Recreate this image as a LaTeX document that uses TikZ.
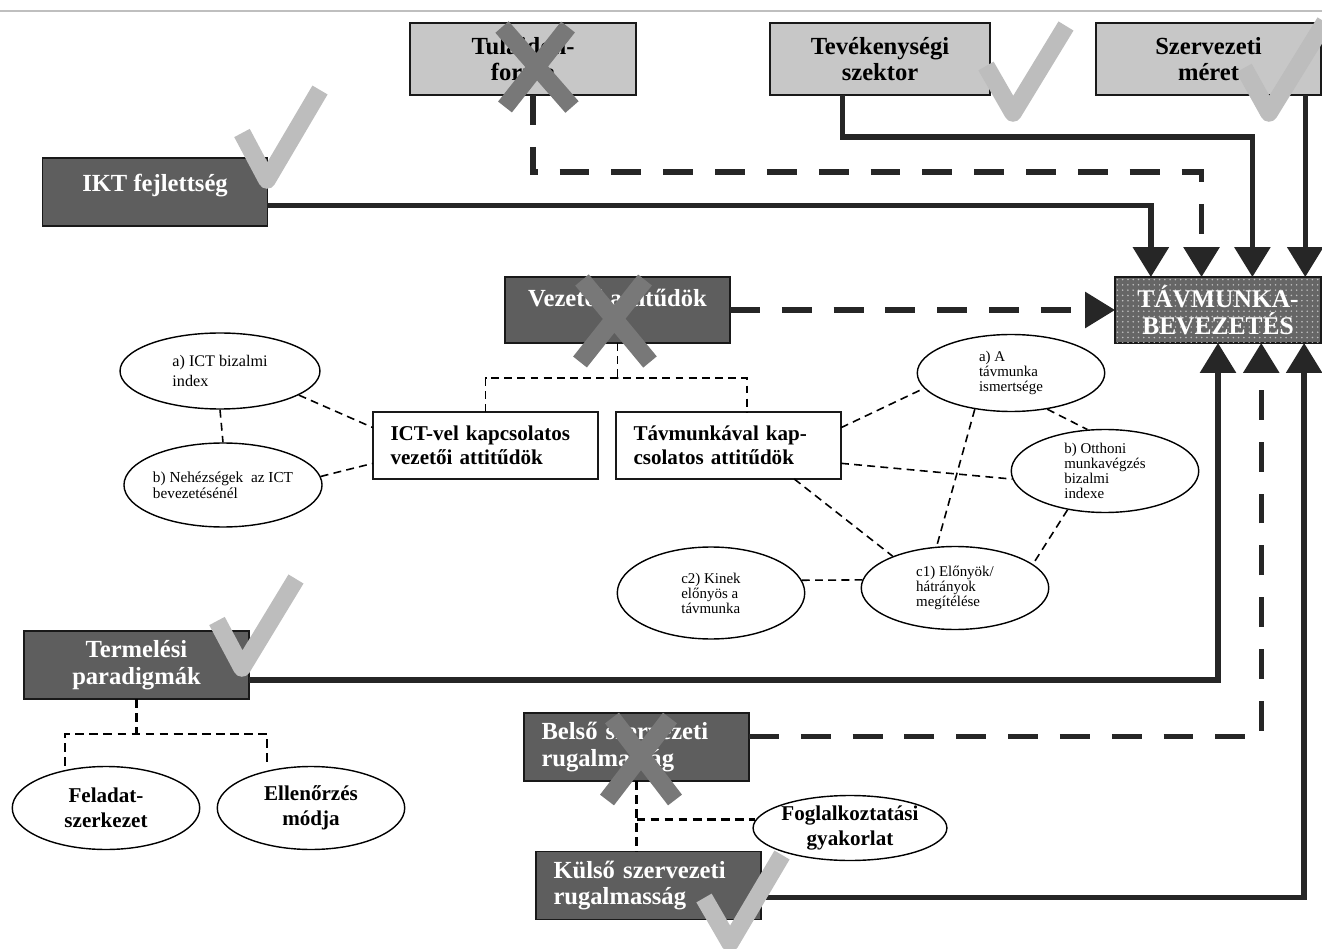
\documentclass[tikz,border=0pt]{standalone}
\usepackage{fontspec}
\setmainfont{Liberation Serif}
\usetikzlibrary{arrows.meta,shapes.geometric,calc,patterns}

\begin{document}
\begin{tikzpicture}
[x=0.02cm, y=-0.02cm, >={Triangle[width=20pt,length=17pt]},
box/.style = 
{draw=black!90, line width=0.9pt, shape=rectangle, minimum width=4.5cm, minimum height=1.36cm, inner sep=0pt, outer sep=0pt},
lightbox/.style = {box, fill=black!22, align=center, font=\bfseries\fontsize{14}{15}\selectfont},
darkbox/.style = {box, fill=black!63, text=white, align=center, font=\bfseries\fontsize{14}{15}\selectfont},
leftbox/.style = {align=left, text width=3.8cm},
whitebox/.style = {box, fill=white, leftbox, minimum height=1.34cm, font=\bfseries\fontsize{12}{14}\selectfont},
tavbox/.style = {box, fill=black!60, postaction={pattern=dots, pattern color=black!25}, text=white, align=center, minimum width=4.12cm, minimum height=1.32cm, font=\bfseries\fontsize{14.5}{15.5}\selectfont},
oval/.style = {draw, line width=0.8pt, shape=ellipse, inner sep=0pt, minimum width=3.75cm, minimum height=1.66cm, align=left, font=\fontsize{8.5}{8.5}\selectfont},
boval/.style = {oval, align=center, font=\bfseries\fontsize{12}{14}\selectfont},
bigline/.style = {draw=black!85, line width=3pt},
bigdash/.style = {bigline, dash pattern=on 17pt off 12.5pt},
link/.style = {draw=black, line width=0.9pt, dash pattern=on 4.5pt off 3pt},
tree/.style = {link, line width=1pt},
tree2/.style = {link, line width=1.6pt, dash pattern=on 5pt off 3pt},
tick/.style = {draw=black!26, line width=10pt, line join=round},
cross/.style = {draw=black!53, line width=10pt}]

\useasboundingbox (0,0) rectangle (1322,949);
\draw[black!25, line width=1.2pt] (0,11) -- (1322,11);

\node[lightbox, minimum width=4.52cm, minimum height=1.44cm] (tul) at (523,59) {Tulajdon-\\forma};
\node[lightbox, minimum width=4.4cm, minimum height=1.44cm] (tev) at (880,59) {Tevékenységi\\szektor};
\node[lightbox, minimum height=1.44cm] (sze) at (1208.5,59) {Szervezeti\\méret};
\node[darkbox, text depth=10pt] (ikt) at (155,192) {IKT fejlettség};
\node[darkbox, minimum height=1.32cm, text depth=14pt] (vez) at (617.5,310) {Vezetői attitűdök};
\node[tavbox] (tav) at (1218,310) {TÁVMUNKA-\\BEVEZETÉS};
\node[whitebox] (ict) at (485.5,445.5) {ICT-vel kapcsolatos\\vezetői attitűdök};
\node[whitebox] (tvk) at (728.5,445.5) {Távmunkával kap-\\csolatos attitűdök};
\node[darkbox] (term) at (136.5,665) {Termelési\\paradigmák};
\node[darkbox, leftbox] (bel) at (636.5,747) {Belső szervezeti\\rugalmasság};
\node[darkbox, leftbox] (kul) at (648.5,885.5) {Külső szervezeti\\rugalmasság};

\node[oval, minimum width=4cm, minimum height=1.52cm, font=\fontsize{9.2}{11}\selectfont] (ea) at (220,371) {a) ICT bizalmi\\index};
\node[oval, minimum width=3.8cm, minimum height=1.68cm, font=\fontsize{8.7}{9}\selectfont] (eb) at (223,485) {b) Nehézségek\ \ az ICT\\bevezetésénél};
\node[oval, minimum height=1.54cm] (ra) at (1011,373) {a) A\\távmunka\\ismertsége};
\node[oval] (rb) at (1105,471) {b) Otthoni\\munkavégzés\\bizalmi\\indexe};
\node[oval] (rc1) at (955,588) {c1) Előnyök/\\hátrányok\\megítélése};
\node[oval, minimum height=1.84cm] (rc2) at (711,593) {c2) Kinek\\előnyös a\\távmunka};
\node[boval] (fel) at (106,808) {Feladat-\\szerkezet};
\node[boval] (ell) at (311,808) {Ellenőrzés\\módja};
\node[boval, minimum height=1.3cm] (fog) at (850,828) {Foglalkoztatási\\gyakorlat};

\draw[bigline,->] ($(ikt.north east)!0.7!(ikt.south east)$) -| ($(tav.north west)!0.174!(tav.north east)$);
\draw[bigdash,->] ($(tul.south west)!0.544!(tul.south east)$) -- ++(0,77) -| ($(tav.north west)!0.42!(tav.north east)$);
\draw[bigline,->] ($(tev.south west)!0.33!(tev.south east)$) -- ++(0,42) -| ($(tav.north west)!0.667!(tav.north east)$);
\draw[bigline,->] ($(sze.south west)!0.93!(sze.south east)$) coordinate (szeS) -- (szeS |- tav.north);
\draw[bigdash,->] (vez) -- (tav);
\draw[bigline,->] ($(term.north east)!0.72!(term.south east)$) -| ($(tav.south west)!0.5!(tav.south east)$);
\draw[bigdash,->] ($(bel.north east)!0.35!(bel.south east)$) -| ($(tav.south west)!0.71!(tav.south east)$);
\draw[bigline,->] ($(kul.north east)!0.68!(kul.south east)$) -| ($(tav.south west)!0.918!(tav.south east)$);

\path[link]
(ea.-17)edge(ict.171) (eb.5)edge(ict.189) (ea.south)edge(eb.north)
(tvk.9)edge(ra.190) (tvk.-9)edge(rb.185) (tvk.-27)edge(rc1.153)
(ra.225)edge(rc1.114) (ra.-45)edge(rb.113) (rb.226)edge(rc1.17)
(rc2.8)edge(rc1.175);

\draw[tree] (vez.south) -- ++(0,35) coordinate (vj);
\draw[tree] (ict.north) |- (vj) -| ($(tvk.north)+(18.5,0)$);
\draw[tree2] (term.south) -- ++(0,35) coordinate (tj);
\draw[tree2] ($(fel.north)+(-41,0)$) |- (tj) -| ($(ell.north)+(-44,0)$);
\draw[tree2] (bel.south) -- (bel.south |- kul.north);
\draw[tree2] (bel.south |- fog.175) -- (fog.175);

\draw[tick] (242,133) -- (267,180) -- (320,90);
\draw[tick] (986,66) -- (1013,113) -- (1066,26);
\draw[tick] (1244,68) -- (1269,113) -- (1325,22);
\draw[tick] (217,621) -- (242,668) -- (296,579);
\draw[tick] (704,898) -- (730,943) -- (782,855);
\draw[cross] (502,27) -- (572,107) (568,27) -- (505,107);
\draw[cross] (582,280) -- (650,362) (645,280) -- (580,362);
\draw[cross] (612,718) -- (675,800) (670,718) -- (607,800);

\end{tikzpicture}
\end{document}
